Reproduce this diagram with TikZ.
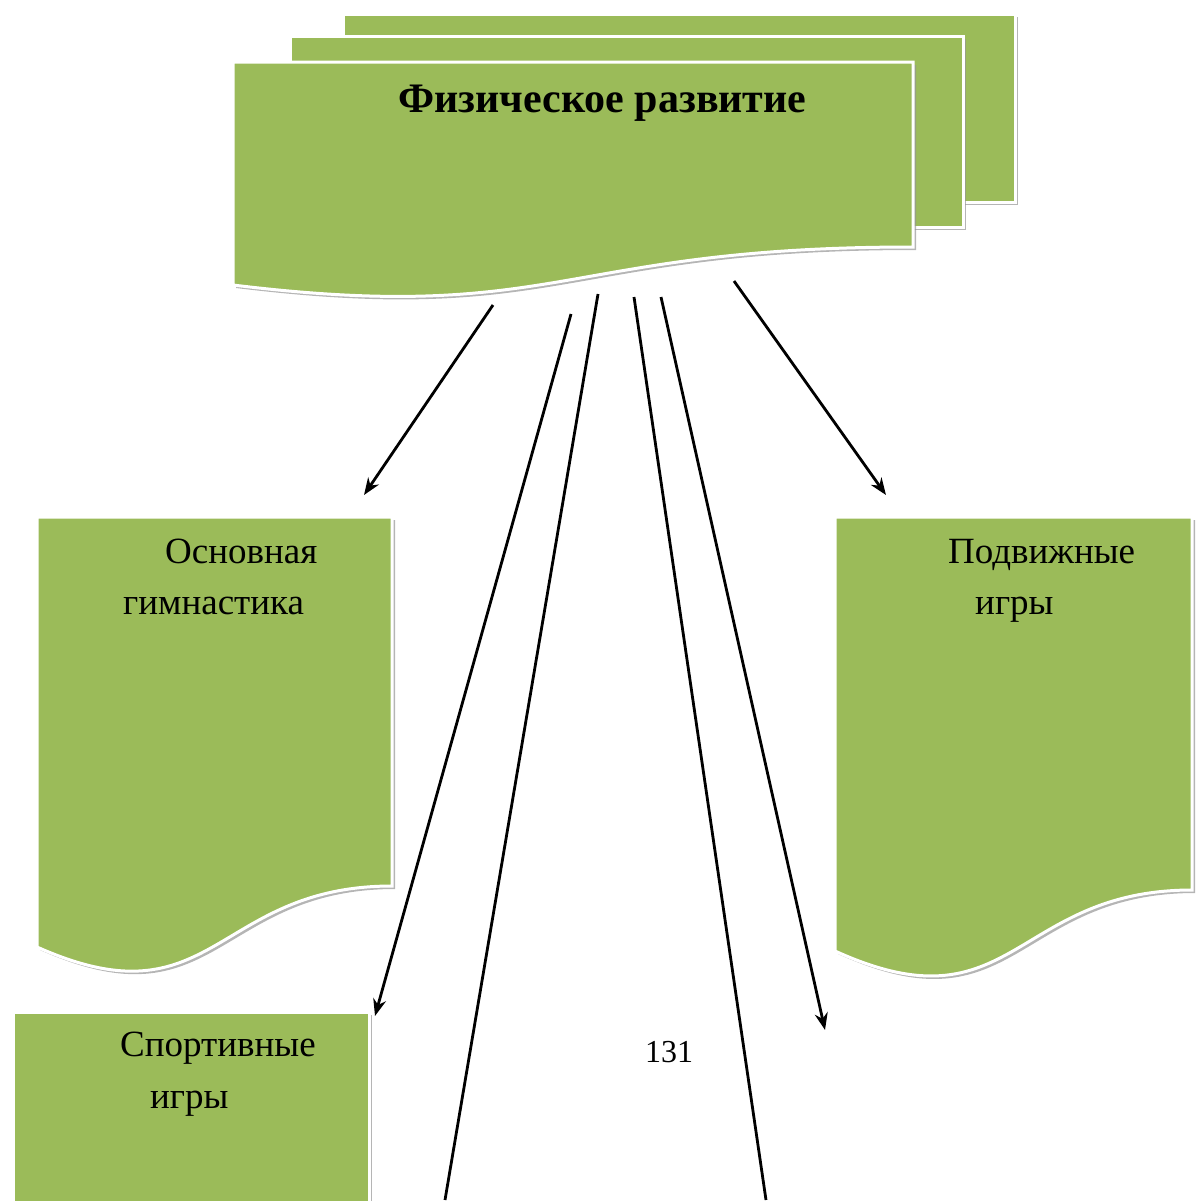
\documentclass[tikz,border=0pt]{standalone}
\usepackage{fontspec}
\setmainfont{Liberation Serif}
\usetikzlibrary{arrows.meta}
\definecolor{docgreen}{RGB}{155,187,89}
\definecolor{docshadow}{RGB}{150,150,150}
\newcommand{\greenshape}[1]{%
  \fill[docshadow, opacity=0.7, shift={(3,3)}] #1;
  \filldraw[fill=docgreen, draw=white, line width=3pt] #1;
}
\tikzset{
  arr/.style={line width=2.8pt, -{Stealth[length=17pt, width=13pt]}},
  plain/.style={line width=2.8pt},
  lbl/.style={anchor=base west, inner sep=0pt, font=\fontsize{37}{44}\selectfont},
}
\begin{document}
\begin{tikzpicture}[x=1pt, y=-1pt]
\useasboundingbox (0,0) rectangle (1204,1200);
\begin{scope}
\clip (0,0) rectangle (1204,1200);
% multidocument
\greenshape{(343,14) rectangle (1015,202)}
\greenshape{(290,36) rectangle (963,227)}
\greenshape{(233,62) -- (913,62) -- (913,247) .. controls (560,247) and (560,325) .. (233,285) -- cycle}
% left / right documents
\greenshape{(37,517) -- (392,517) -- (392,886) .. controls (214,886) and (214,1026) .. (37,947) -- cycle}
\greenshape{(835,517) -- (1192,517) -- (1192,890) .. controls (1013,890) and (1013,1032) .. (835,951) -- cycle}
% bottom box
\greenshape{(13,1012) rectangle (369,1220)}
\end{scope}

\node[anchor=base west, inner sep=0pt, font=\fontsize{42}{48}\selectfont\bfseries] (title) at (398,112) {Физическое развитие};

\node[lbl] (t1a) at (165,563) {Основная};
\node[lbl] (t1b) at (123,614) {гимнастика};
\node[lbl] (t2a) at (948,563) {Подвижные};
\node[lbl] (t2b) at (975,614) {игры};
\node[lbl] (t3a) at (120,1056) {Спортивные};
\node[lbl] (t3b) at (150,1108) {игры};
\node[anchor=base west, inner sep=0pt, font=\fontsize{32}{38}\selectfont] (pg) at (645,1062) {131};

% connector end points
\coordinate (s1) at (493,305);
\coordinate (e1) at (364,495);
\coordinate (s2) at (734,281);
\coordinate (e2) at (886,495);
\coordinate (s3) at (571,314);
\coordinate (e3) at (375,1016);
\coordinate (s4) at (598,294);
\coordinate (e4) at (445,1200);
\coordinate (s5) at (634,297);
\coordinate (e5) at (766,1200);
\coordinate (s6) at (661,297);
\coordinate (e6) at (825,1030);

\draw[arr] (s1) -- (e1);
\draw[arr] (s2) -- (e2);
\draw[arr] (s3) -- (e3);
\draw[plain] (s4) -- (e4);
\draw[plain] (s5) -- (e5);
\draw[arr] (s6) -- (e6);
\end{tikzpicture}
\end{document}
